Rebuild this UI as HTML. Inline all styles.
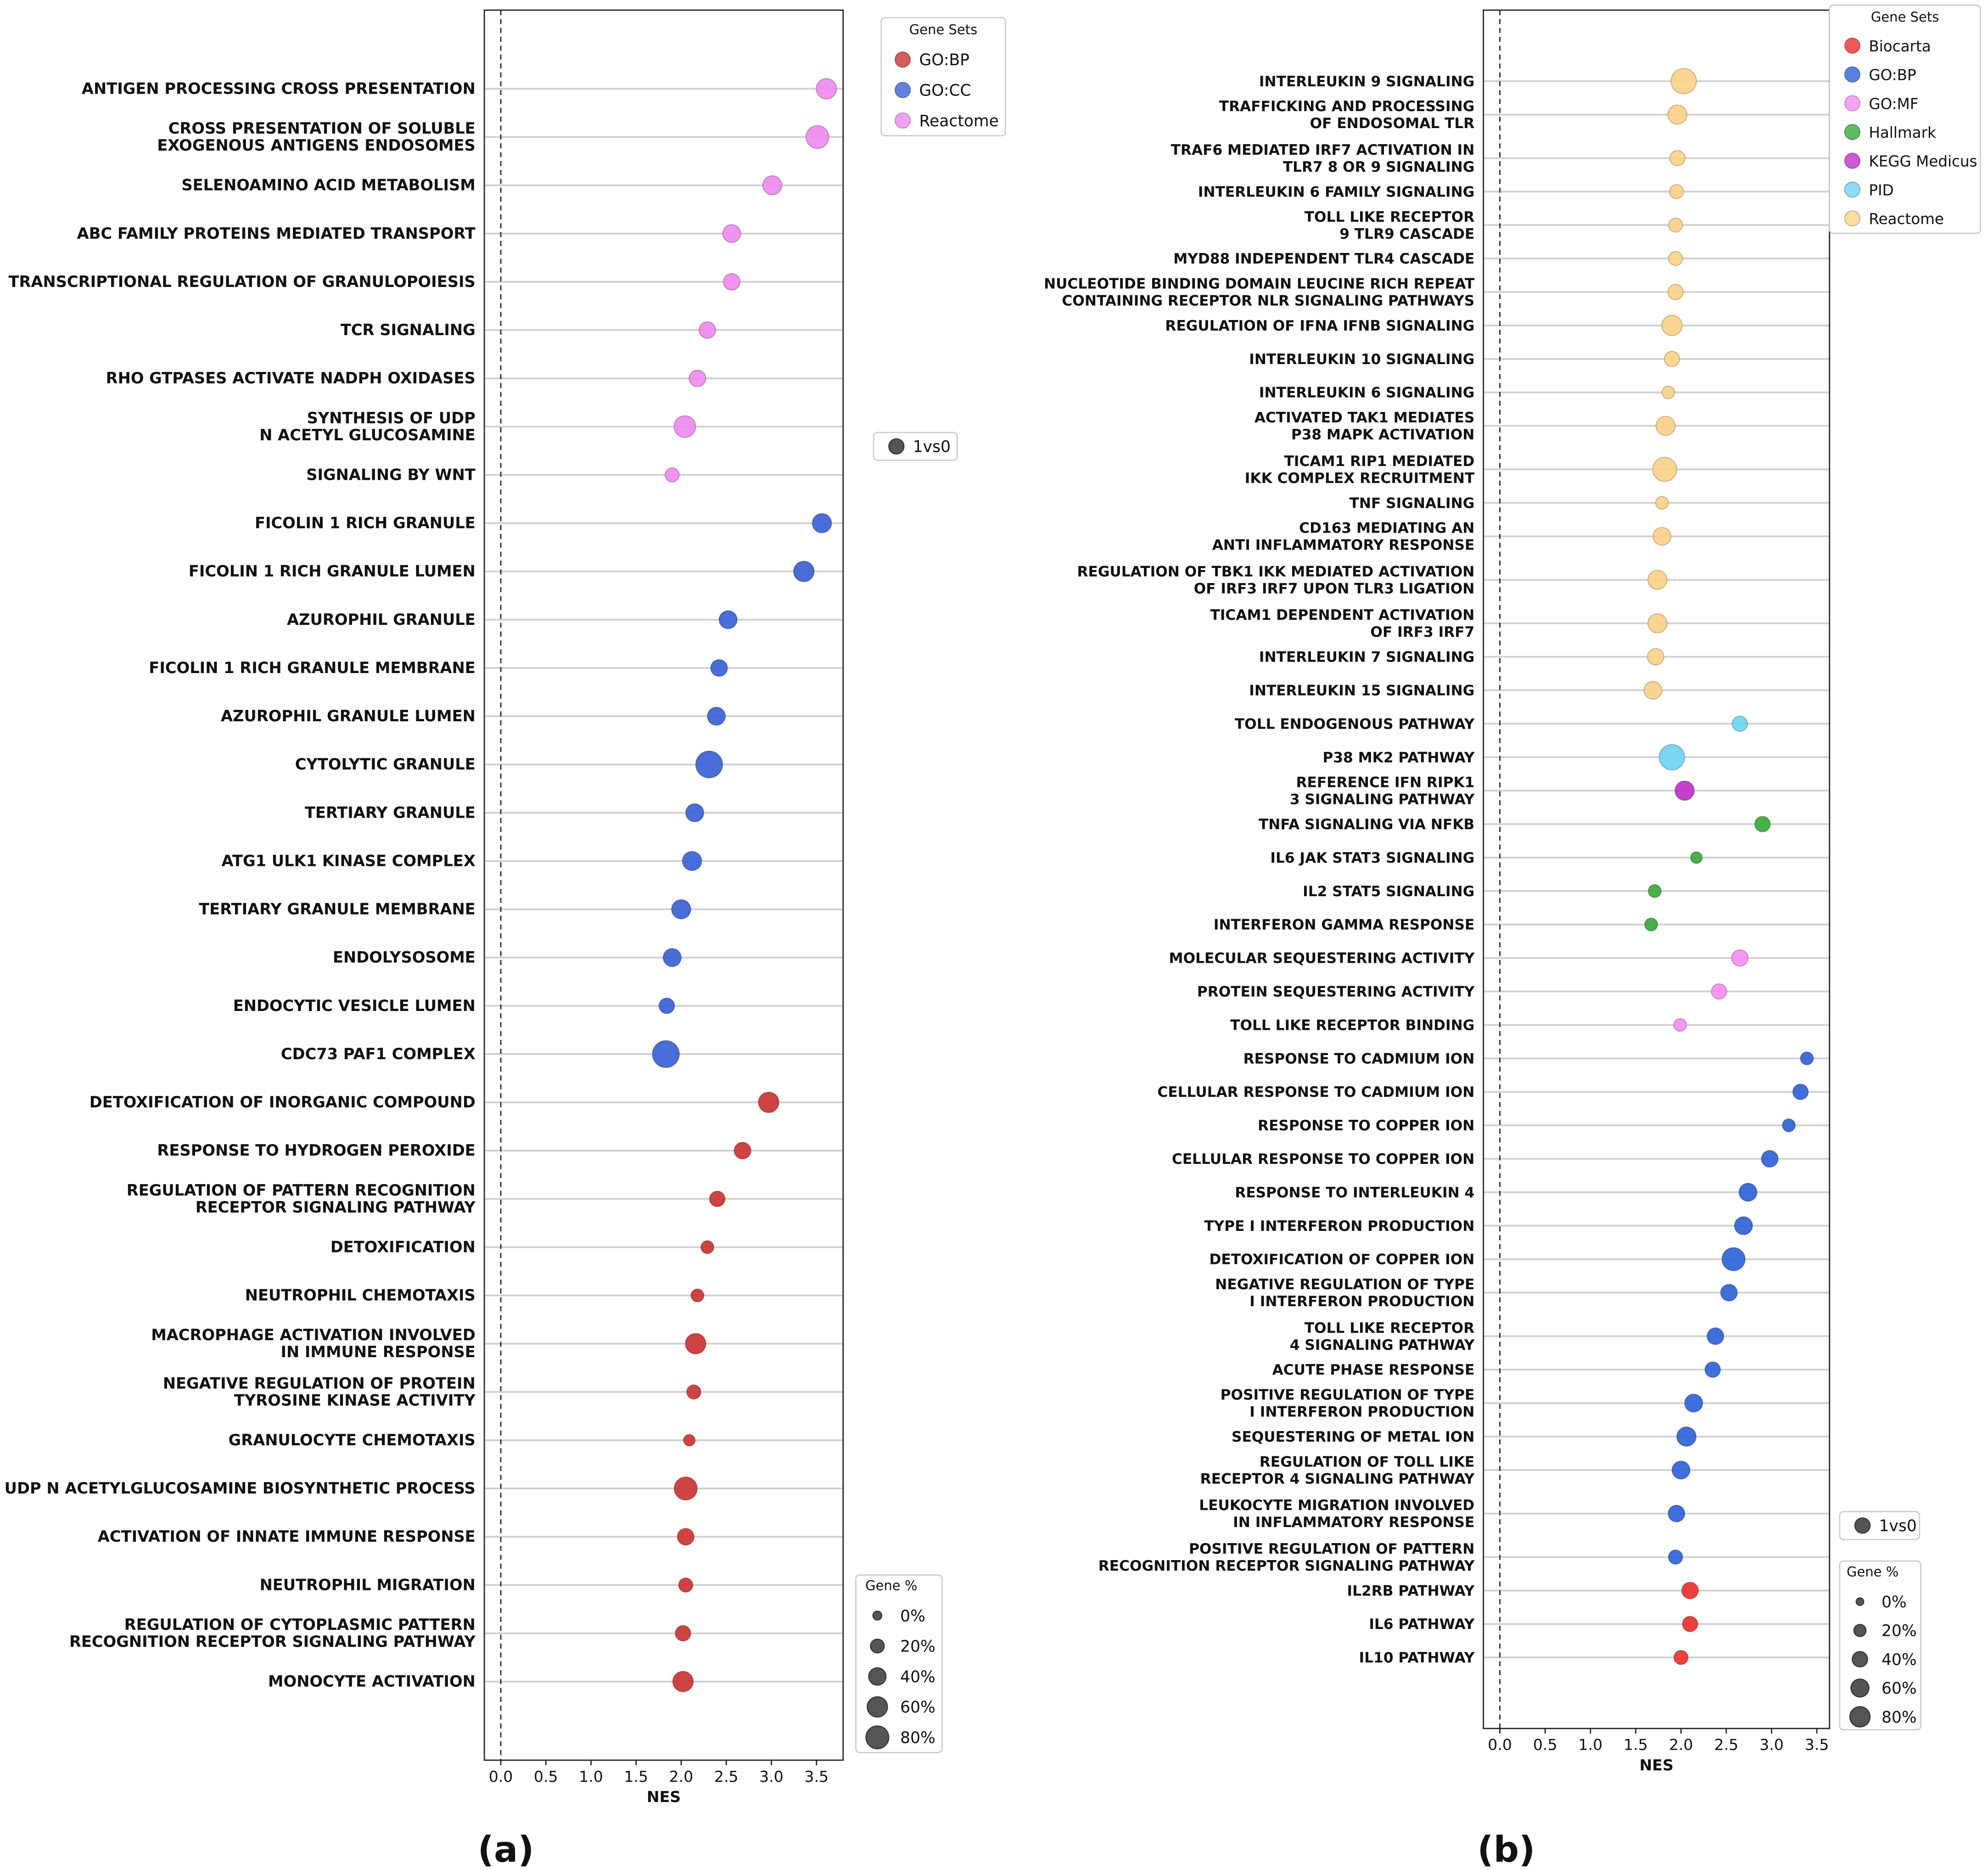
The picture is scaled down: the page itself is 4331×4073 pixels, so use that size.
<!DOCTYPE html>
<html><head><meta charset="utf-8"><style>
html,body{margin:0;padding:0;background:#fff}
svg{display:block}
text{font-family:"DejaVu Sans","Liberation Sans",sans-serif}
</style></head><body>
<svg id="fig" width="4331" height="4073" viewBox="0 0 1568 1474.6" xmlns="http://www.w3.org/2000/svg">
<rect width="1568" height="1474.6" fill="#fff"/>
</svg>
<script>
// ---------- Panel (a) data ----------
const catsA = ["ANTIGEN PROCESSING CROSS PRESENTATION","CROSS PRESENTATION OF SOLUBLE\nEXOGENOUS ANTIGENS ENDOSOMES","SELENOAMINO ACID METABOLISM","ABC FAMILY PROTEINS MEDIATED TRANSPORT","TRANSCRIPTIONAL REGULATION OF GRANULOPOIESIS","TCR SIGNALING","RHO GTPASES ACTIVATE NADPH OXIDASES","SYNTHESIS OF UDP\nN ACETYL GLUCOSAMINE","SIGNALING BY WNT","FICOLIN 1 RICH GRANULE","FICOLIN 1 RICH GRANULE LUMEN","AZUROPHIL GRANULE","FICOLIN 1 RICH GRANULE MEMBRANE","AZUROPHIL GRANULE LUMEN","CYTOLYTIC GRANULE","TERTIARY GRANULE","ATG1 ULK1 KINASE COMPLEX","TERTIARY GRANULE MEMBRANE","ENDOLYSOSOME","ENDOCYTIC VESICLE LUMEN","CDC73 PAF1 COMPLEX","DETOXIFICATION OF INORGANIC COMPOUND","RESPONSE TO HYDROGEN PEROXIDE","REGULATION OF PATTERN RECOGNITION\nRECEPTOR SIGNALING PATHWAY","DETOXIFICATION","NEUTROPHIL CHEMOTAXIS","MACROPHAGE ACTIVATION INVOLVED\nIN IMMUNE RESPONSE","NEGATIVE REGULATION OF PROTEIN\nTYROSINE KINASE ACTIVITY","GRANULOCYTE CHEMOTAXIS","UDP N ACETYLGLUCOSAMINE BIOSYNTHETIC PROCESS","ACTIVATION OF INNATE IMMUNE RESPONSE","NEUTROPHIL MIGRATION","REGULATION OF CYTOPLASMIC PATTERN\nRECOGNITION RECEPTOR SIGNALING PATHWAY","MONOCYTE ACTIVATION"];
const nesA = [3.61,3.51,3.01,2.56,2.56,2.29,2.18,2.04,1.90,3.56,3.36,2.52,2.42,2.39,2.31,2.15,2.12,2.00,1.90,1.84,1.83,2.97,2.68,2.40,2.29,2.18,2.16,2.14,2.09,2.05,2.05,2.05,2.02,2.02];
const pctA = [60,80,51,43,35,35,35,70,21,51,60,43,35,43,114,43,51,51,43,28,114,60,35,28,15,15,60,21,9,80,35,21,28,60];
const setA = ["Reactome","Reactome","Reactome","Reactome","Reactome","Reactome","Reactome","Reactome","Reactome","GO:CC","GO:CC","GO:CC","GO:CC","GO:CC","GO:CC","GO:CC","GO:CC","GO:CC","GO:CC","GO:CC","GO:CC","GO:BP","GO:BP","GO:BP","GO:BP","GO:BP","GO:BP","GO:BP","GO:BP","GO:BP","GO:BP","GO:BP","GO:BP","GO:BP"];
const legendSetsA = ["GO:BP","GO:CC","Reactome"];
// ---------- Panel (b) data ----------
const catsB = ["INTERLEUKIN 9 SIGNALING","TRAFFICKING AND PROCESSING\nOF ENDOSOMAL TLR","TRAF6 MEDIATED IRF7 ACTIVATION IN\nTLR7 8 OR 9 SIGNALING","INTERLEUKIN 6 FAMILY SIGNALING","TOLL LIKE RECEPTOR\n9 TLR9 CASCADE","MYD88 INDEPENDENT TLR4 CASCADE","NUCLEOTIDE BINDING DOMAIN LEUCINE RICH REPEAT\nCONTAINING RECEPTOR NLR SIGNALING PATHWAYS","REGULATION OF IFNA IFNB SIGNALING","INTERLEUKIN 10 SIGNALING","INTERLEUKIN 6 SIGNALING","ACTIVATED TAK1 MEDIATES\nP38 MAPK ACTIVATION","TICAM1 RIP1 MEDIATED\nIKK COMPLEX RECRUITMENT","TNF SIGNALING","CD163 MEDIATING AN\nANTI INFLAMMATORY RESPONSE","REGULATION OF TBK1 IKK MEDIATED ACTIVATION\nOF IRF3 IRF7 UPON TLR3 LIGATION","TICAM1 DEPENDENT ACTIVATION\nOF IRF3 IRF7","INTERLEUKIN 7 SIGNALING","INTERLEUKIN 15 SIGNALING","TOLL ENDOGENOUS PATHWAY","P38 MK2 PATHWAY","REFERENCE IFN RIPK1\n3 SIGNALING PATHWAY","TNFA SIGNALING VIA NFKB","IL6 JAK STAT3 SIGNALING","IL2 STAT5 SIGNALING","INTERFERON GAMMA RESPONSE","MOLECULAR SEQUESTERING ACTIVITY","PROTEIN SEQUESTERING ACTIVITY","TOLL LIKE RECEPTOR BINDING","RESPONSE TO CADMIUM ION","CELLULAR RESPONSE TO CADMIUM ION","RESPONSE TO COPPER ION","CELLULAR RESPONSE TO COPPER ION","RESPONSE TO INTERLEUKIN 4","TYPE I INTERFERON PRODUCTION","DETOXIFICATION OF COPPER ION","NEGATIVE REGULATION OF TYPE\nI INTERFERON PRODUCTION","TOLL LIKE RECEPTOR\n4 SIGNALING PATHWAY","ACUTE PHASE RESPONSE","POSITIVE REGULATION OF TYPE\nI INTERFERON PRODUCTION","SEQUESTERING OF METAL ION","REGULATION OF TOLL LIKE\nRECEPTOR 4 SIGNALING PATHWAY","LEUKOCYTE MIGRATION INVOLVED\nIN INFLAMMATORY RESPONSE","POSITIVE REGULATION OF PATTERN\nRECOGNITION RECEPTOR SIGNALING PATHWAY","IL2RB PATHWAY","IL6 PATHWAY","IL10 PATHWAY"];
const nesB = [2.03,1.96,1.96,1.95,1.94,1.94,1.94,1.90,1.90,1.86,1.83,1.82,1.79,1.79,1.74,1.74,1.72,1.69,2.65,1.90,2.04,2.90,2.17,1.71,1.67,2.65,2.42,1.99,3.39,3.32,3.19,2.98,2.74,2.69,2.58,2.53,2.38,2.35,2.14,2.06,2.00,1.95,1.94,2.10,2.10,2.00];
const pctB = [131,69,39,31,31,31,39,80,39,23,69,118,23,58,69,69,48,58,39,131,69,39,16,23,23,48,39,23,23,39,23,48,58,58,105,48,48,39,58,69,58,48,31,48,39,31];
const setB = ["Reactome","Reactome","Reactome","Reactome","Reactome","Reactome","Reactome","Reactome","Reactome","Reactome","Reactome","Reactome","Reactome","Reactome","Reactome","Reactome","Reactome","Reactome","PID","PID","KEGG Medicus","Hallmark","Hallmark","Hallmark","Hallmark","GO:MF","GO:MF","GO:MF","GO:BP","GO:BP","GO:BP","GO:BP","GO:BP","GO:BP","GO:BP","GO:BP","GO:BP","GO:BP","GO:BP","GO:BP","GO:BP","GO:BP","GO:BP","Biocarta","Biocarta","Biocarta"];
const legendSetsB = ["Biocarta","GO:BP","GO:MF","Hallmark","KEGG Medicus","PID","Reactome"];
const ticks = [0,0.5,1,1.5,2,2.5,3,3.5];
const tickLabels = ["0.0","0.5","1.0","1.5","2.0","2.5","3.0","3.5"];
const pctLegend = [0,20,40,60,80];
const pctLegendLabels = ["0%","20%","40%","60%","80%"];

const NS = "http://www.w3.org/2000/svg";
const svg = document.getElementById("fig");
function mk(tag, attrs, parent){
  const e = document.createElementNS(NS, tag);
  for (const k in attrs) e.setAttribute(k, attrs[k]);
  (parent||svg).appendChild(e);
  return e;
}
const colorsA = {"GO:BP":["#cc3333","#8a2a2a"],"GO:CC":["#3a62d6","#2a3f8a"],"Reactome":["#f08af0","#a060a0"]};
const colorsB = {"Biocarta":["#ee3030","#9a3030"],"GO:BP":["#2f63d8","#2a3f8a"],"GO:MF":["#f58ef0","#a868a8"],"Hallmark":["#38aa38","#2a6a2a"],"KEGG Medicus":["#c030c8","#7a2a80"],"PID":["#6fd5f2","#5090a0"],"Reactome":["#fbd38a","#b09060"]};

function panel(cfg){
  const g = mk("g",{});
  
  
  const xs = v => cfg.x0 + v*cfg.kx;
  // row layout: extra gap between consecutive two-line labels
  const two = cfg.cats.map(c => c.indexOf("\n")>=0);
  const off = [0];
  for (let i=1;i<cfg.cats.length;i++) off.push(off[i-1] + 1 + ((two[i]&&two[i-1]) ? cfg.extra : 0));
  const total = off[off.length-1];
  const ys = i => cfg.yTop + off[i]*(cfg.yBot-cfg.yTop)/total;
  const rs = p => Math.sqrt(cfg.r0*cfg.r0 + p*cfg.rk);
  cfg.cats.forEach((c,i)=>{
    const l = mk("line",{x1:cfg.ax1,x2:cfg.ax2,y1:ys(i),y2:ys(i),stroke:"#d0d0d0","stroke-width":1.4},g);
    
    
  });
  const dl = mk("line",{x1:xs(0),x2:xs(0),y1:cfg.ay1,y2:cfg.ay2,stroke:"#222","stroke-width":1,"stroke-dasharray":"4,3"},g);
  
  
  cfg.cats.forEach((c,i)=>{
    const col = cfg.colors[cfg.sets[i]];
    const m = mk("circle",{cx:xs(cfg.nes[i]),cy:ys(i),r:rs(cfg.pct[i]),fill:col[0],"fill-opacity":0.92,stroke:col[1],"stroke-opacity":0.6,"stroke-width":0.8},g);
    
    
  });
  cfg.cats.forEach((c,i)=>{
    const lines = c.split("\n");
    lines.forEach((ln,j)=>{
      const dy = lines.length===1 ? 0 : (j===0 ? -6.7 : 6.7);
      const t = mk("text",{x:cfg.ax1-7,y:ys(i)+dy+4,"text-anchor":"end","font-size":cfg.fs,"font-weight":"bold",fill:"#111"},g);
      t.textContent = ln;
      
      
    });
  });
  const box = mk("rect",{x:cfg.ax1,y:cfg.ay1,width:cfg.ax2-cfg.ax1,height:cfg.ay2-cfg.ay1,fill:"none",stroke:"#222","stroke-width":1},g);
  
  
  ticks.forEach((tv,i)=>{
    const tk = mk("line",{x1:xs(tv),x2:xs(tv),y1:cfg.ay2,y2:cfg.ay2+4,stroke:"#222","stroke-width":1},g);
    
    
    const tl = mk("text",{x:xs(tv),y:cfg.ay2+17,"text-anchor":"middle","font-size":12,fill:"#111"},g);
    tl.textContent = tickLabels[i];
    
    
  });
  const xt = mk("text",{x:(cfg.ax1+cfg.ax2)/2,y:cfg.ay2+33,"text-anchor":"middle","font-size":12,"font-weight":"bold",fill:"#111"},g);
  xt.textContent = "NES";
  
  
  const L = cfg.leg;
  const lb = mk("rect",{x:L.x,y:L.y,width:L.w,height:L.h,rx:3,fill:"#fff",stroke:"#ccc","stroke-width":1},g);
  
  
  const ltt = mk("text",{x:L.x+L.w/2,y:L.y+13,"text-anchor":"middle","font-size":10.5,fill:"#111"},g);
  ltt.textContent = "Gene Sets";
  
  
  cfg.legendSets.forEach((s,i)=>{
    const col = cfg.colors[s];
    const yy = L.y0 + i*L.dy;
    const c = mk("circle",{cx:L.cx,cy:yy,r:6,fill:col[0],"fill-opacity":0.8,stroke:col[1],"stroke-opacity":0.6,"stroke-width":0.8},g);
    
    
    const t = mk("text",{x:L.cx+13,y:yy+4.5,"font-size":L.fs,fill:"#111"},g);
    t.textContent = s;
    
    
  });
  const V = cfg.vs;
  const vb = mk("rect",{x:V.x,y:V.y,width:V.w,height:22,rx:3,fill:"#fff",stroke:"#ccc","stroke-width":1},g);
  
  
  const vc = mk("circle",{cx:V.x+18,cy:V.y+11,r:6,fill:"#555",stroke:"#333","stroke-width":0.8},g);
  
  
  const vt = mk("text",{x:V.x+31,y:V.y+15.5,"font-size":12.5,fill:"#111"},g);
  vt.textContent = "1vs0";
  
  
  const P = cfg.pl;
  const pb = mk("rect",{x:P.x,y:P.y,width:P.w,height:P.h,rx:3,fill:"#fff",stroke:"#ccc","stroke-width":1},g);
  
  
  const pt = mk("text",{x:P.x+P.w/2-6,y:P.y+12,"text-anchor":"middle","font-size":10.5,fill:"#111"},g);
  pt.textContent = "Gene %";
  
  
  pctLegend.forEach((p,i)=>{
    const yy = P.y0 + i*P.dy;
    const c = mk("circle",{cx:P.cx,cy:yy,r:rs(p),fill:"#555",stroke:"#333","stroke-width":0.8},g);
    
    
    const t = mk("text",{x:P.tx,y:yy+4.5,"font-size":12.5,fill:"#111"},g);
    t.textContent = pctLegendLabels[i];
    
    
  });
  const pl = mk("text",{x:cfg.pLabX,y:1468,"text-anchor":"middle","font-size":28,"font-weight":"bold","font-family":"Liberation Serif, serif",fill:"#111"},g);
  pl.textContent = cfg.panelLabel;
  
  
}

panel({name:"panel-a",cats:catsA,nes:nesA,pct:pctA,sets:setA,colors:colorsA,legendSets:legendSetsA,extra:0,
  x0:395,kx:71.14,yTop:70,yBot:1326,ax1:382,ax2:665,ay1:8,ay2:1388,fs:12.2,r0:3.5,rk:0.86,
  leg:{x:695,y:14,w:98,h:93,cx:712,y0:47,dy:24,fs:12.5},
  vs:{x:689,y:341,w:66},
  pl:{x:675,y:1242,w:68,h:140,cx:692,tx:710,y0:1274,dy:24},
  pLabX:399,panelLabel:"(a)"});
panel({name:"panel-b",cats:catsB,nes:nesB,pct:pctB,sets:setB,colors:colorsB,legendSets:legendSetsB,extra:0.3,
  x0:1183,kx:71.43,yTop:64,yBot:1307,ax1:1170,ax2:1443,ay1:8,ay2:1363,fs:11.3,r0:3,rk:0.6875,
  leg:{x:1443,y:4,w:119,h:180,cx:1461,y0:36,dy:22.7,fs:11.8},
  vs:{x:1451,y:1192,w:63},
  pl:{x:1451,y:1231,w:64,h:133,cx:1467,tx:1484,y0:1263,dy:22.7},
  pLabX:1188,panelLabel:"(b)"});
</script>
</body></html>
